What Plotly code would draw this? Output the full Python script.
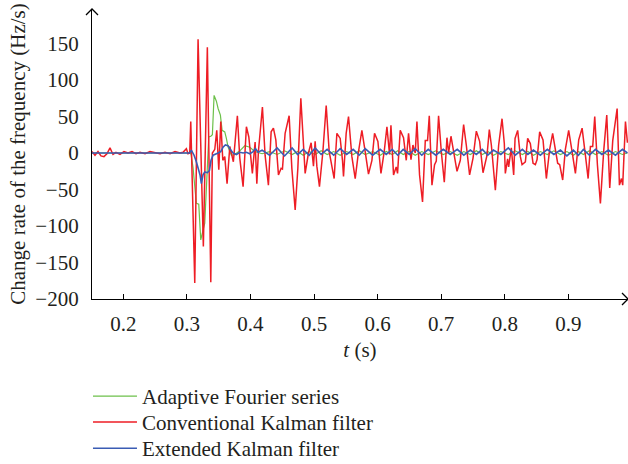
import plotly.graph_objects as go

# ---------------- data ----------------
t_red = [0.1507, 0.1555, 0.1602, 0.1649, 0.1696, 0.1743, 0.1791, 0.1838, 0.1885, 0.1948,
         0.2011, 0.2074, 0.2137, 0.2200, 0.2263, 0.2342, 0.2420, 0.2499, 0.2578, 0.2656,
         0.2735, 0.2814, 0.2892, 0.2940, 0.2992, 0.3018, 0.3045,
         0.3061, 0.3124, 0.3176, 0.3259, 0.3322, 0.3376, 0.3401, 0.3439, 0.3470, 0.3502,
         0.3533, 0.3565, 0.3596, 0.3632, 0.3675, 0.3706, 0.3731, 0.3794, 0.3832, 0.3884,
         0.3936, 0.3974, 0.4005, 0.4030, 0.4053, 0.4073, 0.4100, 0.4125, 0.4188, 0.4230,
         0.4282, 0.4325, 0.4361, 0.4399, 0.4440, 0.4482, 0.4503, 0.4545, 0.4608, 0.4651,
         0.4703, 0.4745, 0.4792, 0.4824, 0.4860, 0.4912, 0.4954, 0.4991, 0.5017, 0.5044,
         0.5085, 0.5139, 0.5191, 0.5238, 0.5280, 0.5316, 0.5359, 0.5411, 0.5447, 0.5463,
         0.5505, 0.5542, 0.5595, 0.5647, 0.5699, 0.5752, 0.5804, 0.5856, 0.5910, 0.5951,
         0.6004, 0.6052, 0.6103, 0.6146, 0.6187, 0.6209, 0.6250, 0.6292, 0.6313, 0.6355,
         0.6407, 0.6450, 0.6486, 0.6524, 0.6555, 0.6591, 0.6618, 0.6659, 0.6706, 0.6749,
         0.6785, 0.6812, 0.6854, 0.6895, 0.6922, 0.6958, 0.7001, 0.7048, 0.7090, 0.7116,
         0.7153, 0.7194, 0.7248, 0.7300, 0.7352, 0.7394, 0.7446, 0.7500, 0.7552, 0.7604,
         0.7657, 0.7720, 0.7756, 0.7788, 0.7851, 0.7903, 0.7956, 0.7992, 0.8008, 0.8044,
         0.8060, 0.8102, 0.8139, 0.8161, 0.8202, 0.8244, 0.8271, 0.8323, 0.8359, 0.8401,
         0.8444, 0.8480, 0.8507, 0.8548, 0.8601, 0.8653, 0.8705, 0.8752, 0.8795, 0.8831,
         0.8863, 0.8910, 0.8952, 0.9004, 0.9058, 0.9110, 0.9162, 0.9215, 0.9267, 0.9310,
         0.9346, 0.9382, 0.9414, 0.9456, 0.9503, 0.9555, 0.9603, 0.9650, 0.9697, 0.9766,
         0.9802, 0.9834, 0.9854, 0.9897, 0.9928]
v_red = [2, -3, 2, -4, -5, -1, 7, -2, 1, -2,
         2, 0, 2, -1, 1, -1, 2, 0, -1, 1,
         -1, 2, 0, 1, 6, -1, 0,
         43, -178, 156, -128, 145, -177, 0, 5, 31, -23,
         43, -10, -5, -42, 9, -3, -12, 51, -7, -46,
         36, 22, -10, -28, -5, 15, -42, 2, 63, -3,
         -44, 29, 34, 18, -30, -21, -22, 27, 51, -21,
         -78, -21, 75, 17, -28, 0, 14, -18, 16, -18,
         -46, 2, 65, 2, -20, -35, 27, 20, -10, -32,
         27, 50, -5, -35, 2, 31, 2, -29, -10, 27,
         16, -28, 2, 36, -2, 38, -30, -19, -28, 31,
         21, -10, 27, -9, 11, 0, 43, -30, -67, 17,
         17, 51, -44, -16, -11, 51, 2, -40, 21, 0,
         23, 2, -25, -10, 39, 11, -30, -7, 30, 16,
         -27, -3, 32, 11, -51, 11, 47, 13, -28, -8,
         -19, 7, -30, 20, 31, -5, -16, -12, 20, 13,
         -14, -16, -9, 29, 18, -35, 5, 27, 2, -14,
         -16, -37, 5, 31, 2, -28, 18, 34, -3, -35,
         9, 9, 50, -16, -69, 3, 52, -48, 17, 61,
         -44, -35, -44, 43, 14]

t_green = [0.1507, 0.3045, 0.3066, 0.3097, 0.3149, 0.3187, 0.3218, 0.3239, 0.3281, 0.3306,
           0.3344, 0.3376, 0.3401, 0.3428, 0.3464, 0.3491, 0.3527, 0.3554, 0.3596, 0.3621,
           0.3648, 0.3700, 0.3753, 0.3832, 0.3911, 0.3990, 0.4068,
           0.4183, 0.4301, 0.4419, 0.4537, 0.4655, 0.4742, 0.4829, 0.4923, 0.5017, 0.5112,
           0.5206, 0.5309, 0.5411, 0.5513, 0.5615, 0.5710, 0.5804, 0.5922, 0.6040, 0.6135,
           0.6229, 0.6316, 0.6402, 0.6497, 0.6591, 0.6694, 0.6796, 0.6914, 0.7032, 0.7142,
           0.7252, 0.7355, 0.7457, 0.7552, 0.7646, 0.7733, 0.7819, 0.7937, 0.8055, 0.8165,
           0.8276, 0.8362, 0.8449, 0.8559, 0.8669, 0.8771, 0.8874, 0.8976, 0.9078, 0.9157,
           0.9236, 0.9330, 0.9425, 0.9527, 0.9629, 0.9739, 0.9850, 0.9928]
v_green = [0, 0, -2, -20, -69, -70, -119, -110, -96, -50,
           22, 23, 25, 79, 71, 61, 52, 31, 29, 20,
           8, -3, -2, 3, 10, 8, 2,
           -1, 2, -2, 3, -2, 2, -3, 2, -2, 3,
           -2, 2, -3, 2, -2, 3, -2, 2, -3, 2,
           -2, 3, -2, 2, -3, 2, -2, 3, -2, 2,
           -3, 2, -2, 3, -2, 2, -3, 2, -2, 3,
           -2, 2, -3, 2, -2, 3, -2, 2, -3, 2,
           -2, 3, -2, 2, -3, 2, -2, 0]

t_blue = [0.1507, 0.3045, 0.3070, 0.3113, 0.3149, 0.3187, 0.3207, 0.3228, 0.3254, 0.3281,
          0.3322, 0.3354, 0.3380, 0.3412, 0.3448, 0.3491, 0.3533, 0.3569, 0.3605, 0.3648,
          0.3690, 0.3727, 0.3779, 0.3832, 0.3884, 0.3936, 0.3990, 0.4041, 0.4078, 0.4120,
          0.4183, 0.4301, 0.4419, 0.4537, 0.4655, 0.4742, 0.4829, 0.4923, 0.5017, 0.5112,
          0.5206, 0.5309, 0.5411, 0.5513, 0.5615, 0.5710, 0.5804, 0.5922, 0.6040, 0.6135,
          0.6229, 0.6316, 0.6402, 0.6497, 0.6591, 0.6694, 0.6796, 0.6914, 0.7032, 0.7142,
          0.7252, 0.7355, 0.7457, 0.7552, 0.7646, 0.7733, 0.7819, 0.7937, 0.8055, 0.8165,
          0.8276, 0.8362, 0.8449, 0.8559, 0.8669, 0.8771, 0.8874, 0.8976, 0.9078, 0.9157,
          0.9236, 0.9330, 0.9425, 0.9527, 0.9629, 0.9739, 0.9850, 0.9928]
v_blue = [0, 0, 4, -3, -12, -23, -30, -42, -30, -26,
          -27, -24, -10, -3, -2, 0, 2, 8, 11, 10,
          4, 0, -2, 1, 0, 1, -1, 2, 6, 1,
          4, -3, 7, -4, 7, -2, 5, -3, 7, -2,
          5, -3, 6, -2, 5, -3, 6, -3, 5, -2,
          5, -3, 5, -2, 6, -3, 5, -3, 5, -2,
          5, -3, 4, -2, 5, -3, 4, -2, 7, -3,
          5, -2, 4, -3, 5, -2, 4, -4, 4, -3,
          5, -3, 5, -2, 4, -3, 5, 0]

x_tick_vals = [0.2, 0.3, 0.4, 0.5, 0.6, 0.7, 0.8, 0.9]
x_tick_text = ["0.2", "0.3", "0.4", "0.5", "0.6", "0.7", "0.8", "0.9"]
y_tick_vals = [-200, -150, -100, -50, 0, 50, 100, 150]
y_tick_text = ["\u2212200", "\u2212150", "\u2212100", "\u221250", "0", "50", "100", "150"]

series_names = ["Adaptive Fourier series", "Conventional Kalman filter", "Extended Kalman filter"]
series_colors = ["#6cc04a", "#ee1d25", "#3a5cb4"]

# ---------------- figure ----------------
FONT = "Liberation Serif, Times New Roman, serif"
FS = 21
fig = go.Figure()
fig.add_trace(go.Scatter(x=t_green, y=v_green, mode="lines", name=series_names[0],
                         line=dict(color=series_colors[0], width=1.2), legend="legend"))
fig.add_trace(go.Scatter(x=t_red, y=v_red, mode="lines", name=series_names[1],
                         line=dict(color=series_colors[1], width=1.5), legend="legend2"))
fig.add_trace(go.Scatter(x=t_blue, y=v_blue, mode="lines", name=series_names[2],
                         line=dict(color=series_colors[2], width=1.6), legend="legend3"))

leg_common = dict(x=-0.0075, xanchor="left", yanchor="top",
                  font=dict(family=FONT, size=FS, color="#231f20"),
                  bgcolor="rgba(0,0,0,0)", itemwidth=44)

fig.update_layout(
    width=628, height=464,
    margin=dict(l=92, r=0, t=9, b=165, autoexpand=False),
    paper_bgcolor="white", plot_bgcolor="white",
    font=dict(family=FONT, size=FS, color="#231f20"),
    showlegend=True,
    legend=dict(y=-0.2655, **leg_common),
    legend2=dict(y=-0.355, **leg_common),
    legend3=dict(y=-0.445, **leg_common),
    shapes=[
        dict(type="path", xref="paper", yref="paper",
             path="M -0.0112 0.9793 L 0 1 L 0.0112 0.9793",
             line=dict(color="black", width=1.3)),
        dict(type="path", xref="paper", yref="paper",
             path="M 0.9888 0.0207 L 1 0 L 0.9888 -0.0207",
             line=dict(color="black", width=1.3)),
    ],
)
fig.update_xaxes(range=[0.1508, 0.9937], tickmode="array", tickvals=x_tick_vals, ticktext=x_tick_text,
                 ticks="inside", ticklen=5, tickwidth=1, tickcolor="black",
                 showline=True, linecolor="black", linewidth=1.3, mirror=False, automargin=False,
                 showgrid=False, zeroline=False, ticklabelstandoff=6,
                 title=dict(text="<i>t</i> (s)", standoff=6, font=dict(family=FONT, size=FS)))
fig.update_yaxes(range=[-200, 197.3], tickmode="array", tickvals=y_tick_vals, ticktext=y_tick_text,
                 ticks="", showline=True, linecolor="black", linewidth=1.3, automargin=False,
                 showgrid=False, zeroline=False, ticklabelstandoff=8,
                 title=dict(text="Change rate of the frequency (Hz/s)", standoff=3,
                            font=dict(family=FONT, size=FS)))

fig.write_html("out.html",
               config={"displayModeBar": False},
               post_script="document.body.style.margin='0px';document.body.style.overflow='hidden';")
